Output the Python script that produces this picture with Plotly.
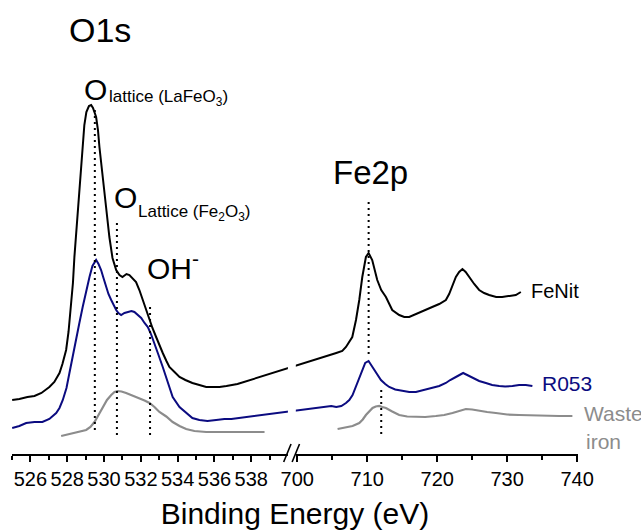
import plotly.graph_objects as go

# ---------------- spectra (binding energy in eV, intensity in a.u.) ----------------
# FeNit
fenit_o1s_be = [525.01, 525.40, 525.84, 526.22, 526.60, 527.03, 527.30, 527.58, 527.74, 527.94,
                528.07, 528.21, 528.31, 528.39, 528.50, 528.66, 528.77, 528.93, 529.04, 529.18,
                529.30, 529.40, 529.57, 529.67, 529.75, 529.91, 530.11, 530.29, 530.46, 530.66,
                530.84, 531.00, 531.22, 531.38, 531.54, 531.74, 531.92, 532.10, 532.30, 532.47,
                532.63, 532.83, 533.01, 533.19, 533.39, 533.55, 533.83, 534.10, 534.42, 534.80,
                535.18, 535.55, 535.89, 536.27, 536.65, 536.98, 537.25]
fenit_o1s_int = [54, 55, 57, 58, 61, 67, 72, 81, 90, 104,
                 122, 147, 171, 197, 222, 259, 289, 329, 342, 348,
                 349, 346, 337, 324, 307, 277, 247, 217, 196, 184,
                 179, 177, 180, 179, 176, 172, 164, 154, 144, 134,
                 126, 117, 108, 101, 93, 87, 82, 77, 74, 71,
                 69, 67, 67, 67, 68, 69, 70]
fenit_fe2p_be = [705.57, 706.43, 706.96, 707.43, 707.86, 708.39, 708.86, 709.29, 709.81, 710.19,
                 710.71, 711.43, 712.00, 712.67, 713.14, 713.57, 714.57, 715.29, 716.00, 716.71,
                 717.43, 718.29, 719.29, 720.29, 721.24, 721.71, 722.14, 722.67, 723.14, 723.61,
                 724.07, 724.57, 725.29, 726.00, 726.71, 727.43, 728.43, 729.29, 730.29, 731.24,
                 731.96]
fenit_fe2p_int = [101, 103, 107, 112, 117, 134, 154, 177, 197, 201,
                  194, 174, 164, 157, 151, 144, 139, 137, 137, 139,
                  141, 144, 147, 150, 154, 160, 168, 177, 182, 185,
                  182, 177, 170, 164, 161, 159, 157, 157, 158, 159,
                  162]

# R053
r053_o1s_be = [525.01, 525.40, 525.77, 526.22, 526.65, 527.03, 527.40, 527.58, 527.76, 527.96,
               528.12, 528.28, 528.48, 528.66, 528.84, 529.02, 529.21, 529.37, 529.57, 529.70,
               529.84, 529.97, 530.11, 530.24, 530.39, 530.51, 530.66, 530.78, 530.93, 531.11,
               531.29, 531.49, 531.65, 531.82, 532.02, 532.20, 532.38, 532.55, 532.74, 532.96,
               533.19, 533.45, 533.73, 534.10, 534.46, 534.80, 535.18, 535.62, 536.09, 536.54,
               536.92, 537.36, 537.79, 538.17, 538.50, 538.81]
r053_o1s_int = [26, 28, 31, 32, 32, 35, 41, 46, 54, 66,
                81, 97, 114, 131, 147, 163, 177, 188, 194, 190,
                184, 176, 167, 160, 154, 149, 144, 141, 139, 141,
                142, 143, 142, 139, 136, 131, 127, 120, 111, 99,
                87, 73, 57, 47, 41, 36, 34, 33, 34, 35,
                35, 36, 37, 38, 39, 40]
r053_fe2p_be = [704.14, 704.86, 705.57, 706.29, 706.96, 707.43, 707.90, 708.39, 708.86, 709.29,
                709.71, 710.19, 710.57, 711.00, 711.43, 711.96, 712.57, 713.14, 714.00, 715.04,
                716.00, 716.96, 718.14, 719.33, 720.29, 721.24, 721.86, 722.67, 723.14, 723.71,
                724.29, 725.04, 726.00, 726.96, 727.86, 728.86, 729.71, 730.76, 731.71, 732.67,
                733.61]
r053_fe2p_int = [47, 48, 47, 48, 51, 54, 59, 68, 77, 85,
                 91, 93, 89, 84, 79, 74, 70, 67, 64.5, 63,
                 62, 62, 64, 66, 68, 71, 74, 77, 79, 81,
                 79, 76, 73, 71, 69, 68, 67.5, 68, 69, 69,
                 68]

# Waste iron
waste_o1s_be = [527.67, 528.12, 528.55, 529.03, 529.26, 529.48, 529.70, 529.93, 530.16, 530.39,
                530.57, 530.74, 530.95, 531.20, 531.54, 531.92, 532.20, 532.47, 532.74, 533.01,
                533.38, 533.73, 534.10, 534.46, 534.91, 535.55, 536.27, 536.98, 537.63, 538.17,
                538.72]
waste_o1s_int = [18, 20, 22, 24, 27, 32, 39, 47, 54, 59,
                 62, 63, 62.5, 61, 58.5, 56, 53.5, 51, 47, 42,
                 37.5, 32, 28, 25, 23, 22, 22, 22, 22, 22,
                 22]
waste_fe2p_be = [705.76, 706.71, 707.90, 708.86, 709.36, 709.81, 710.29, 710.76, 711.21, 711.71,
                 712.14, 712.67, 713.57, 714.57, 715.71, 716.96, 718.29, 719.81, 721.00, 722.19,
                 723.14, 724.10, 725.00, 726.00, 727.14, 728.39, 730.00, 731.71, 733.57, 735.53,
                 737.43, 739.33]
waste_fe2p_int = [25, 26, 28, 31, 34.5, 39, 43, 46, 47.5, 48,
                  47, 46, 42.5, 39, 37.5, 37, 37, 38, 39, 41,
                  43, 45, 44.5, 43, 42, 41, 39.5, 39, 38.5, 38,
                  38, 38]

# reference binding energies (dotted markers)
o1s_peaks = [529.5, 530.7, 532.5]      # O lattice (LaFeO3), O lattice (Fe2O3), OH-
fe2p_peaks = [710.2, 712.0]            # Fe2p3/2 of FeNit/R053 and of waste iron

# tick labels
o1s_ticks = [526, 528, 530, 532, 534, 536, 538]
fe2p_ticks = [700, 710, 720, 730, 740]
o1s_minor = [525, 527, 529, 531, 533, 535, 537, 539]
fe2p_minor = [705, 715, 725, 735]

# ---------------- broken axis: O1s segment at full scale, Fe2p compressed ----------------
BREAK_START = 540.5   # axis position where the 700 eV segment begins
FE_SCALE = 0.38       # axis units per eV in the Fe2p segment
X_RANGE = [525, 555.75]


def to_axis(e):
    if e is None:
        return None
    return e if e < 600 else BREAK_START + (e - 700) * FE_SCALE


def axis_list(values):
    return [to_axis(v) for v in values]


def to_paper(u):
    return (u - X_RANGE[0]) / (X_RANGE[1] - X_RANGE[0])


BLACK = "#000000"
NAVY = "#0b0b80"
GRAY = "#8c8c8c"
FONT = "Arial, Liberation Sans, sans-serif"

fig = go.Figure()

# FeNit and R053: the O1s window is joined to the Fe2p window by a straight segment
fig.add_trace(go.Scatter(
    x=axis_list(fenit_o1s_be + fenit_fe2p_be), y=fenit_o1s_int + fenit_fe2p_int,
    mode="lines", line=dict(color=BLACK, width=2), name="FeNit"))
fig.add_trace(go.Scatter(
    x=axis_list(r053_o1s_be + r053_fe2p_be), y=r053_o1s_int + r053_fe2p_int,
    mode="lines", line=dict(color=NAVY, width=2), name="R053"))
fig.add_trace(go.Scatter(
    x=axis_list(waste_o1s_be + [None] + waste_fe2p_be),
    y=waste_o1s_int + [None] + waste_fe2p_int,
    mode="lines", line=dict(color=GRAY, width=2.2), name="Waste iron", connectgaps=False))

# dotted reference lines (vertical extent of each marker)
marker_spans = [(344, 22), (231, 17), (147, 17), (252, 96), (64, 17)]
for e, (top, bottom) in zip(o1s_peaks + fe2p_peaks, marker_spans):
    fig.add_trace(go.Scatter(
        x=[to_axis(e), to_axis(e)], y=[top, bottom], mode="lines",
        line=dict(color=BLACK, width=2, dash="2px,4px"), hoverinfo="skip"))

ann = []


def label(text, x, y, size, color=BLACK, xanchor="center"):
    ann.append(dict(text=text, x=to_paper(x), y=y, xref="paper", yref="y", showarrow=False,
                    xanchor=xanchor, yanchor="middle",
                    font=dict(family=FONT, size=size, color=color)))


label("O1s", 529.78, 424, 34)
label("O", 529.51, 365, 30)
label("lattice (LaFeO<sub>3</sub>)", 530.16, 356, 17, xanchor="left")
label("O", 531.14, 257, 30)
label("Lattice (Fe<sub>2</sub>O<sub>3</sub>)", 531.74, 241, 17, xanchor="left")
label("OH<sup>-</sup>", 532.22, 188, 30, xanchor="left")
label("Fe2p", to_axis(710.4), 282, 33)
label("FeNit", to_axis(733.1), 163, 20, xanchor="left")
label("R053", to_axis(734.7), 71, 21, color=NAVY, xanchor="left")
label("Waste", to_axis(740.7), 41, 21, color=GRAY, xanchor="left")
label("iron", to_axis(741.0), 13, 21, color=GRAY, xanchor="left")

H = 454.0
shapes = [
    # gap in the joining segments and the axis line at the break
    dict(type="rect", xref="x", yref="paper", x0=539.99, x1=540.42, y0=-4 / H, y1=0.35,
         fillcolor="white", line=dict(width=0), layer="above"),
    # "//" break marks
    dict(type="line", xref="x", yref="paper", x0=539.76, y0=-8 / H, x1=540.16, y1=10 / H,
         line=dict(color=BLACK, width=1.6), layer="above"),
    dict(type="line", xref="x", yref="paper", x0=540.22, y0=-8 / H, x1=540.62, y1=10 / H,
         line=dict(color=BLACK, width=1.6), layer="above"),
]

fig.update_layout(
    width=641, height=531,
    margin=dict(l=12, r=63, t=0, b=77, pad=0),
    paper_bgcolor="white", plot_bgcolor="white",
    showlegend=False,
    annotations=ann, shapes=shapes,
    font=dict(family=FONT, color=BLACK),
    xaxis=dict(
        range=X_RANGE, showgrid=False, zeroline=False,
        showline=True, linecolor=BLACK, linewidth=2,
        ticks="outside", ticklen=6, tickwidth=1.5, tickcolor=BLACK,
        tickmode="array", tickangle=0,
        tickvals=axis_list(o1s_ticks + fe2p_ticks),
        ticktext=[str(t) for t in o1s_ticks + fe2p_ticks],
        tickfont=dict(family=FONT, size=20, color=BLACK),
        minor=dict(tickmode="array", tickvals=axis_list(o1s_minor + fe2p_minor),
                   ticks="outside", ticklen=4, tickwidth=1.5, tickcolor=BLACK, showgrid=False),
        title=dict(text="Binding Energy (eV)", font=dict(family=FONT, size=30, color=BLACK),
                   standoff=14),
    ),
    yaxis=dict(range=[0, 454], visible=False, fixedrange=True),
)

fig.write_html("out.html")
